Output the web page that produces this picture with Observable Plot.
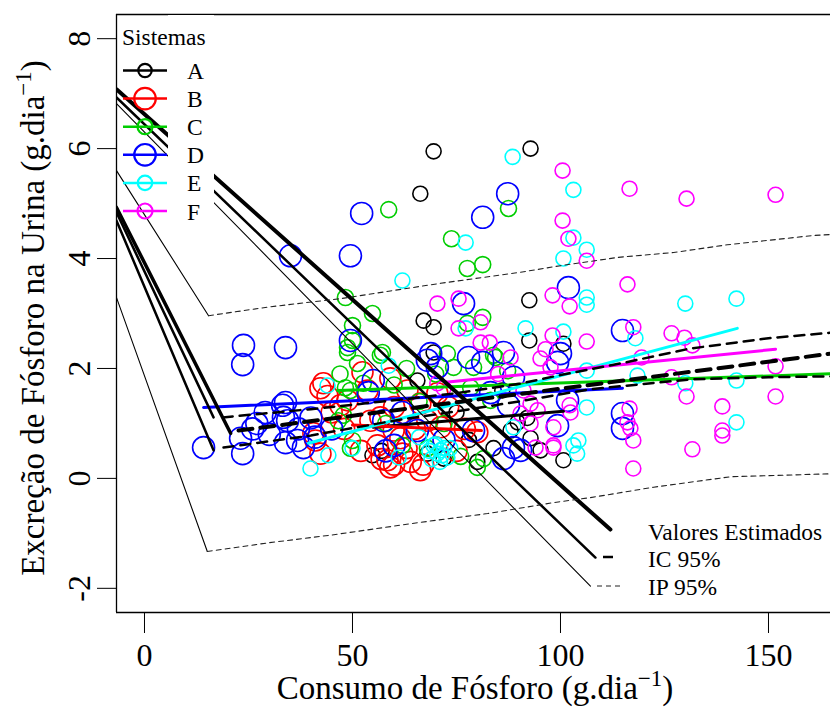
<!DOCTYPE html>
<html><head><meta charset="utf-8">
<script src="https://cdn.jsdelivr.net/npm/d3@7"></script>
<script src="https://cdn.jsdelivr.net/npm/@observablehq/plot@0.6"></script>
<style>body{margin:0;background:#fff} svg{display:block}</style>
</head><body><div id="chart"></div>
<script>
// ---------- data (x = consumo de fósforo, y = excreção urinária) ----------
const systems = ["A","B","C","D","E","F"];
const sistemaA = [[69.5,5.95],[92.8,6.0],[66.3,5.18],[92.5,3.24],[67.1,2.87],[69.5,2.75],[92.5,2.51],[100.7,2.45],[69.5,2.29],[65.6,1.78],[89.7,1.02],[92.8,0.73],[95.2,0.51],[100.7,0.33],[83.9,0.55],[88,0.87],[92,1.1],[54.8,0.42],[57,0.5],[68,0.45],[71.9,0.36],[78,0.7],[75,1.2],[80,0.3],[86,1.6]];
const sistemaB = [[43,1.73],[42.3,1.64],[52.4,1.93],[48.8,1.42],[47.1,1.33],[40.6,0.82],[41.1,0.69],[42.3,0.45],[58.4,0.33],[59.1,0.2],[66.3,0.15],[56.7,1.11],[59.9,0.87],[61.5,0.73],[59.1,1.82],[53.6,1.6],[63.2,1.6],[66.3,1.36],[70.4,1.55],[68,1.05],[54.3,1.05],[71.2,0.93],[80,0.84],[62,0.45],[64,0.3],[56,0.6],[75,0.5],[77,0.9],[73,1.3],[65,0.9],[52,0.5],[60,1.3],[48,0.9],[57,0.35],[60,0.25],[63,0.55],[67,0.25],[45,1.2],[44,1.5]];
const sistemaC = [[58.7,4.89],[87.5,4.91],[73.8,4.36],[77.6,3.82],[81.3,3.89],[48.3,3.29],[54.8,3.0],[50,2.78],[81.3,2.93],[77.6,2.82],[57.2,2.29],[72.8,2.27],[84.4,2.2],[48.8,2.38],[50,2.51],[48.8,2.29],[51.2,2.09],[56.7,2.24],[48.3,1.65],[49.5,1.6],[47.8,1.15],[46.6,1.05],[50,0.69],[49.5,0.55],[52.6,1.73],[74.3,2.02],[83.9,2.24],[87.3,1.96],[79.1,2.02],[78.4,1.65],[83.2,1.42],[80,0.2],[81.5,0.36],[60,1.7],[63,2.0],[66,1.4],[70,1.9],[62,0.6],[58,1.0],[47,1.9],[68,0.55],[76,0.4],[72,1.0]];
const sistemaD = [[14.2,0.56],[23.1,0.73],[23.6,0.45],[23.8,2.42],[23.6,2.07],[33.9,2.38],[33.9,1.38],[34.4,1.05],[33.9,0.65],[35.1,4.05],[49.5,4.05],[52.2,4.82],[87.3,5.18],[81.3,4.75],[76.7,3.18],[101.9,3.47],[86.3,2.29],[81.3,2.11],[77.9,2.2],[68,2.15],[49.5,2.51],[114.9,2.69],[114.9,1.18],[114.9,0.91],[100,2.27],[33.2,1.33],[33.4,1.11],[36.8,0.69],[38.2,0.56],[55,1.78],[53.8,1.56],[57.5,1.05],[65.6,0.87],[68.8,2.27],[70.4,2.02],[99.3,2.11],[88.7,1.84],[87.5,1.33],[99.3,0.96],[101.7,1.42],[88.7,0.56],[86.3,0.36],[90.4,0.51],[79.1,0.87],[83.2,1.56],[40,1.1],[45,0.9],[60,0.6],[62,1.2],[72,0.7],[27,1.0],[30,0.8],[26,0.9],[29,1.2],[37,0.9],[41,0.75],[58,0.5]];
const sistemaE = [[88.5,5.85],[103.1,5.25],[103.1,4.38],[106.3,4.16],[100.7,4.0],[77.2,4.29],[62,3.6],[106.3,3.29],[106.3,3.16],[91.6,2.73],[100.7,2.67],[77.2,2.73],[130,3.18],[142.3,3.27],[118,2.55],[118.5,1.87],[130,1.73],[142.3,1.78],[106.3,1.96],[106.3,1.29],[142.3,1.02],[104.3,0.69],[104,0.45],[103.1,0.6],[58.7,2.05],[44,1.69],[39.9,0.18],[44.2,0.42],[50,0.55],[61.1,0.38],[70.4,0.45],[71.2,0.51],[72.8,0.38],[69.5,0.6],[73.5,0.55],[71,0.3],[88.7,0.93],[66,0.75],[68.5,0.5],[70,0.62],[72,0.55],[71.5,0.42],[69,0.35]];
const sistemaF = [[100.5,5.6],[100.5,4.69],[101.9,4.36],[106.3,3.96],[98.1,3.33],[102.2,3.13],[70.4,3.18],[75.5,3.27],[75.5,2.73],[80.8,2.84],[80.8,2.47],[83,2.47],[98.1,2.6],[96.4,2.35],[106.3,2.49],[95.2,2.18],[116.6,5.27],[130.3,5.09],[151.7,5.16],[116.1,3.53],[117.5,2.75],[126.7,2.64],[129.8,2.56],[131.7,2.42],[119.5,2.2],[151.7,2.04],[126.7,1.84],[130.3,1.49],[151.7,1.49],[138.9,1.31],[138.9,0.87],[138.9,0.78],[131.7,0.53],[116.6,1.27],[116.1,1.02],[116.8,0.91],[117.5,0.69],[117.5,0.18],[102.2,1.33],[102.4,1.2],[97.6,2.02],[91.1,1.6],[92.8,1.36],[94.5,1.24],[98.3,0.56],[90.4,1.18],[92.8,1.0],[98.3,0.93],[98.3,0.6],[94,0.56],[70.4,1.73],[71.9,1.64],[85,1.9],[88,2.2]];

// per-system regression lines (start, end)
const retaA = [[55,0.93],[100.7,1.22]];
const retaB = [[50,0.97],[81,0.87]];
const retaC = [[46.4,1.6],[168,1.91]];
const retaD = [[14.2,1.29],[114.9,1.64]];
const retaE = [[39.4,0.64],[142.5,2.73]];
const retaF = [[72.4,1.75],[151.7,2.35]];

// overall estimate, confidence band, prediction band
const estimado = [[22.6,0.87],[168,2.30]];
const icSup = [[18.8,1.11],[40,1.26],[60,1.42],[75,1.55],[90,1.72],[100,1.88],[115,2.10],[131,2.36],[150,2.55],[168,2.67]];
const icInf = [[19,0.56],[40,0.78],[60,1.05],[75,1.22],[90,1.40],[107,1.62],[131,1.80],[150,1.84],[168,1.86]];
const ipSup = [[15.4,2.96],[30,3.12],[47.1,3.27],[60,3.42],[71.2,3.55],[90.4,3.75],[100,3.87],[113.7,4.02],[127.2,4.11],[140.1,4.25],[160.8,4.42],[168,4.45]];
const ipInf = [[15.1,-1.33],[30,-1.17],[45,-1.03],[66.3,-0.80],[82.5,-0.64],[98.4,-0.44],[107.2,-0.35],[122.4,-0.16],[140.9,0.03],[168,0.09]];

// connector lines seen in the figure
const ligEstimado = [[-6.73,7.08],[112.0,-0.93]];
const ligIC = [[-6.73,6.93],[108.4,-1.44]];
const ligIP = [[-6.73,6.82],[107.2,-1.96]];
const ligIniIcSup = [[-6.73,4.84],[16.6,1.11]];
const ligIniEst = [[-6.73,4.93],[20.7,0.82]];
const ligIniIcInf = [[-6.73,4.69],[16.6,0.51]];
const ligIniIpSup = [[-6.73,5.60],[15.4,2.96]];
const ligIniIpInf = [[-6.73,3.29],[15.1,-1.33]];

const xTicks = [0,50,100,150];
const yTicks = [-2,0,2,4,6,8];
const legendaLinhas = ["Valores Estimados","IC 95%","IP 95%"];

// ---------- styles ----------
const colors = ["#000000","#FF0000","#00CD00","#0000FF","#00FFFF","#FF00FF"];
const radius = [7.5,10.5,8,11,7.5,7.5];
const legendRadius = [6.7,10.8,7.5,10.8,7.2,7.5];
const font = "'Liberation Serif','Times New Roman',serif";
const series = [sistemaA,sistemaB,sistemaC,sistemaD,sistemaE,sistemaF];
const retas = [retaA,retaB,retaC,retaD,retaE,retaF];

const X0 = -6.73, X1 = 168, Y0 = -2.44, Y1 = 8.44;
const px = 4.16;
const L = (data, o) => Plot.line(data, {x: d => d[0], y: d => d[1], clip: true, ...o});

const chart = Plot.plot({
  width: 830, height: 707,
  marginLeft: 116, marginRight: 0, marginTop: 14, marginBottom: 95,
  x: {domain: [X0, X1], range: [116, 116 + (X1 - X0) * px]},
  y: {domain: [Y0, Y1]},
  style: {fontFamily: font, background: "white", color: "black"},
  marks: [
    ...series.map((s, i) => Plot.dot(s, {x: d => d[0], y: d => d[1], r: radius[i], stroke: colors[i], strokeWidth: 1.6, fill: "none", clip: true})),
    ...retas.map((s, i) => L(s, {stroke: colors[i], strokeWidth: 3})),
    L(ligEstimado, {stroke: "black", strokeWidth: 4}),
    L(ligIC, {stroke: "black", strokeWidth: 2.5}),
    L(ligIP, {stroke: "black", strokeWidth: 1.1}),
    L(ligIniIcSup, {stroke: "black", strokeWidth: 2.5}),
    L(ligIniEst, {stroke: "black", strokeWidth: 3.5}),
    L(ligIniIcInf, {stroke: "black", strokeWidth: 2.5}),
    L(ligIniIpSup, {stroke: "black", strokeWidth: 1.1}),
    L(ligIniIpInf, {stroke: "black", strokeWidth: 1.1}),
    L(estimado, {stroke: "black", strokeWidth: 4, strokeDasharray: "14,8"}),
    L(icSup, {stroke: "black", strokeWidth: 2.5, strokeDasharray: "10,7"}),
    L(icInf, {stroke: "black", strokeWidth: 2.5, strokeDasharray: "10,7"}),
    L(ipSup, {stroke: "#222", strokeWidth: 1.1, strokeDasharray: "5,4"}),
    L(ipInf, {stroke: "#222", strokeWidth: 1.1, strokeDasharray: "5,4"}),
    Plot.ruleX([X0], {stroke: "black", strokeWidth: 1.3}),
    Plot.ruleY([Y0], {stroke: "black", strokeWidth: 1.3}),
    Plot.ruleY([Y1], {stroke: "black", strokeWidth: 1.3}),
    Plot.axisX({ticks: xTicks, tickSize: 21, tickPadding: 10, fontSize: 32, label: null, tickFormat: d => String(d)}),
    Plot.axisY({ticks: yTicks, tickSize: 19, label: null, tickFormat: () => ""}),
    Plot.text(yTicks, {y: d => d, text: d => String(d), frameAnchor: "left", dx: -37, rotate: -90, fontSize: 32, textAnchor: "middle"})
  ]
});

const svg = d3.select(chart);
const addText = (x, y, t, size, anchor) => svg.append("text").attr("x", x).attr("y", y)
  .attr("text-anchor", anchor || "start").style("font-family", font).style("font-size", size + "px")
  .attr("fill", "black").text(t);

// axis titles
const xt = svg.append("text").attr("x", 475).attr("y", 699).attr("text-anchor", "middle")
  .style("font-family", font).style("font-size", "33px").attr("fill", "black");
xt.append("tspan").text("Consumo de Fósforo (g.dia");
xt.append("tspan").attr("dy", -13).style("font-size", "23px").text("\u22121");
xt.append("tspan").attr("dy", 13).text(")");

const yt = svg.append("text").attr("transform", "translate(44,318) rotate(-90)").attr("text-anchor", "middle")
  .style("font-family", font).style("font-size", "33px").attr("fill", "black");
yt.append("tspan").text("Excreção de Fósforo na Urina (g.dia");
yt.append("tspan").attr("dy", -13).style("font-size", "23px").text("\u22121");
yt.append("tspan").attr("dy", 13).text(")");

// legend: Sistemas
svg.append("rect").attr("x", 168).attr("y", 15).attr("width", 46).attr("height", 210).attr("fill", "white");
addText(122, 45, "Sistemas", 23.5);
systems.forEach((s, i) => {
  const cy = 70.5 + i * 28.1;
  svg.append("line").attr("x1", 123).attr("x2", 167).attr("y1", cy).attr("y2", cy).attr("stroke", colors[i]).attr("stroke-width", 2.5);
  svg.append("circle").attr("cx", 145).attr("cy", cy).attr("r", legendRadius[i]).attr("fill", "none").attr("stroke", colors[i]).attr("stroke-width", 2.2);
  addText(187, cy + 8.5, s, 23.5);
});

// legend: estimates
const lgY = [531, 558, 586];
legendaLinhas.forEach((t, i) => addText(648, lgY[i] + 8.5, t, 23.5));
svg.append("line").attr("x1", 603).attr("x2", 613).attr("y1", 557).attr("y2", 557).attr("stroke", "black").attr("stroke-width", 2.5);
svg.append("line").attr("x1", 597).attr("x2", 621).attr("y1", 586).attr("y2", 586).attr("stroke", "#222").attr("stroke-width", 1.1).attr("stroke-dasharray", "5,4");

document.getElementById("chart").appendChild(chart);
</script>
</body></html>
